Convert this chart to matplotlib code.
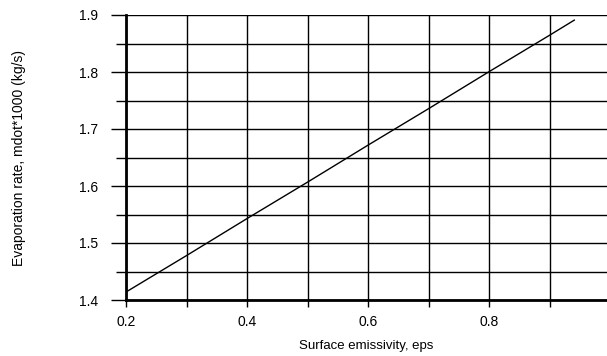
import matplotlib
matplotlib.use("Agg")
import matplotlib.pyplot as plt
import numpy as np

# surface emissivity vs evaporation rate (mdot*1000, kg/s)
eps = [0.2, 0.3, 0.4, 0.5, 0.6, 0.7, 0.8, 0.9, 0.94]
mdot = [1.414, 1.478, 1.543, 1.607, 1.672, 1.736, 1.801, 1.865, 1.891]

x_major = [0.2, 0.4, 0.6, 0.8]
x_minor = [0.3, 0.5, 0.7, 0.9]
y_major = [1.4, 1.5, 1.6, 1.7, 1.8, 1.9]
y_minor = [1.45, 1.55, 1.65, 1.75, 1.85]

plt.rcParams['font.family'] = ['Liberation Sans', 'DejaVu Sans']

fig = plt.figure(figsize=(6.07, 3.56), dpi=100)
ax = fig.add_axes([126/607, 56/356, 1 - 126/607, 285/356])

ax.plot(eps, mdot, color='black', lw=1)

ax.set_xlim(0.2, 0.994)
ax.set_ylim(1.4, 1.9)

ax.set_xticks(x_major)
ax.set_xticklabels(['0.2', '0.4', '0.6', '0.8'])
ax.set_xticks(x_minor, minor=True)
ax.set_yticks(y_major)
ax.set_yticklabels(['1.4', '1.5', '1.6', '1.7', '1.8', '1.9'])
ax.set_yticks(y_minor, minor=True)

ax.grid(True, which='both', color='black', lw=1)
ax.tick_params(axis='x', which='both', direction='out', length=5, width=1, labelsize=10, pad=6)
ax.tick_params(axis='y', which='major', direction='out', length=11, width=1, labelsize=10, pad=9)
ax.tick_params(axis='y', which='minor', direction='out', length=7, width=1)

ax.spines['right'].set_visible(False)
ax.spines['top'].set_visible(False)
ax.spines['left'].set_linewidth(2)
ax.spines['bottom'].set_linewidth(2)

ax.set_xlabel('Surface emissivity, eps', fontsize=9.5, labelpad=8)
ax.set_ylabel('Evaporation rate, mdot*1000 (kg/s)', fontsize=10, labelpad=38)

fig.savefig('out.png', dpi=100)
